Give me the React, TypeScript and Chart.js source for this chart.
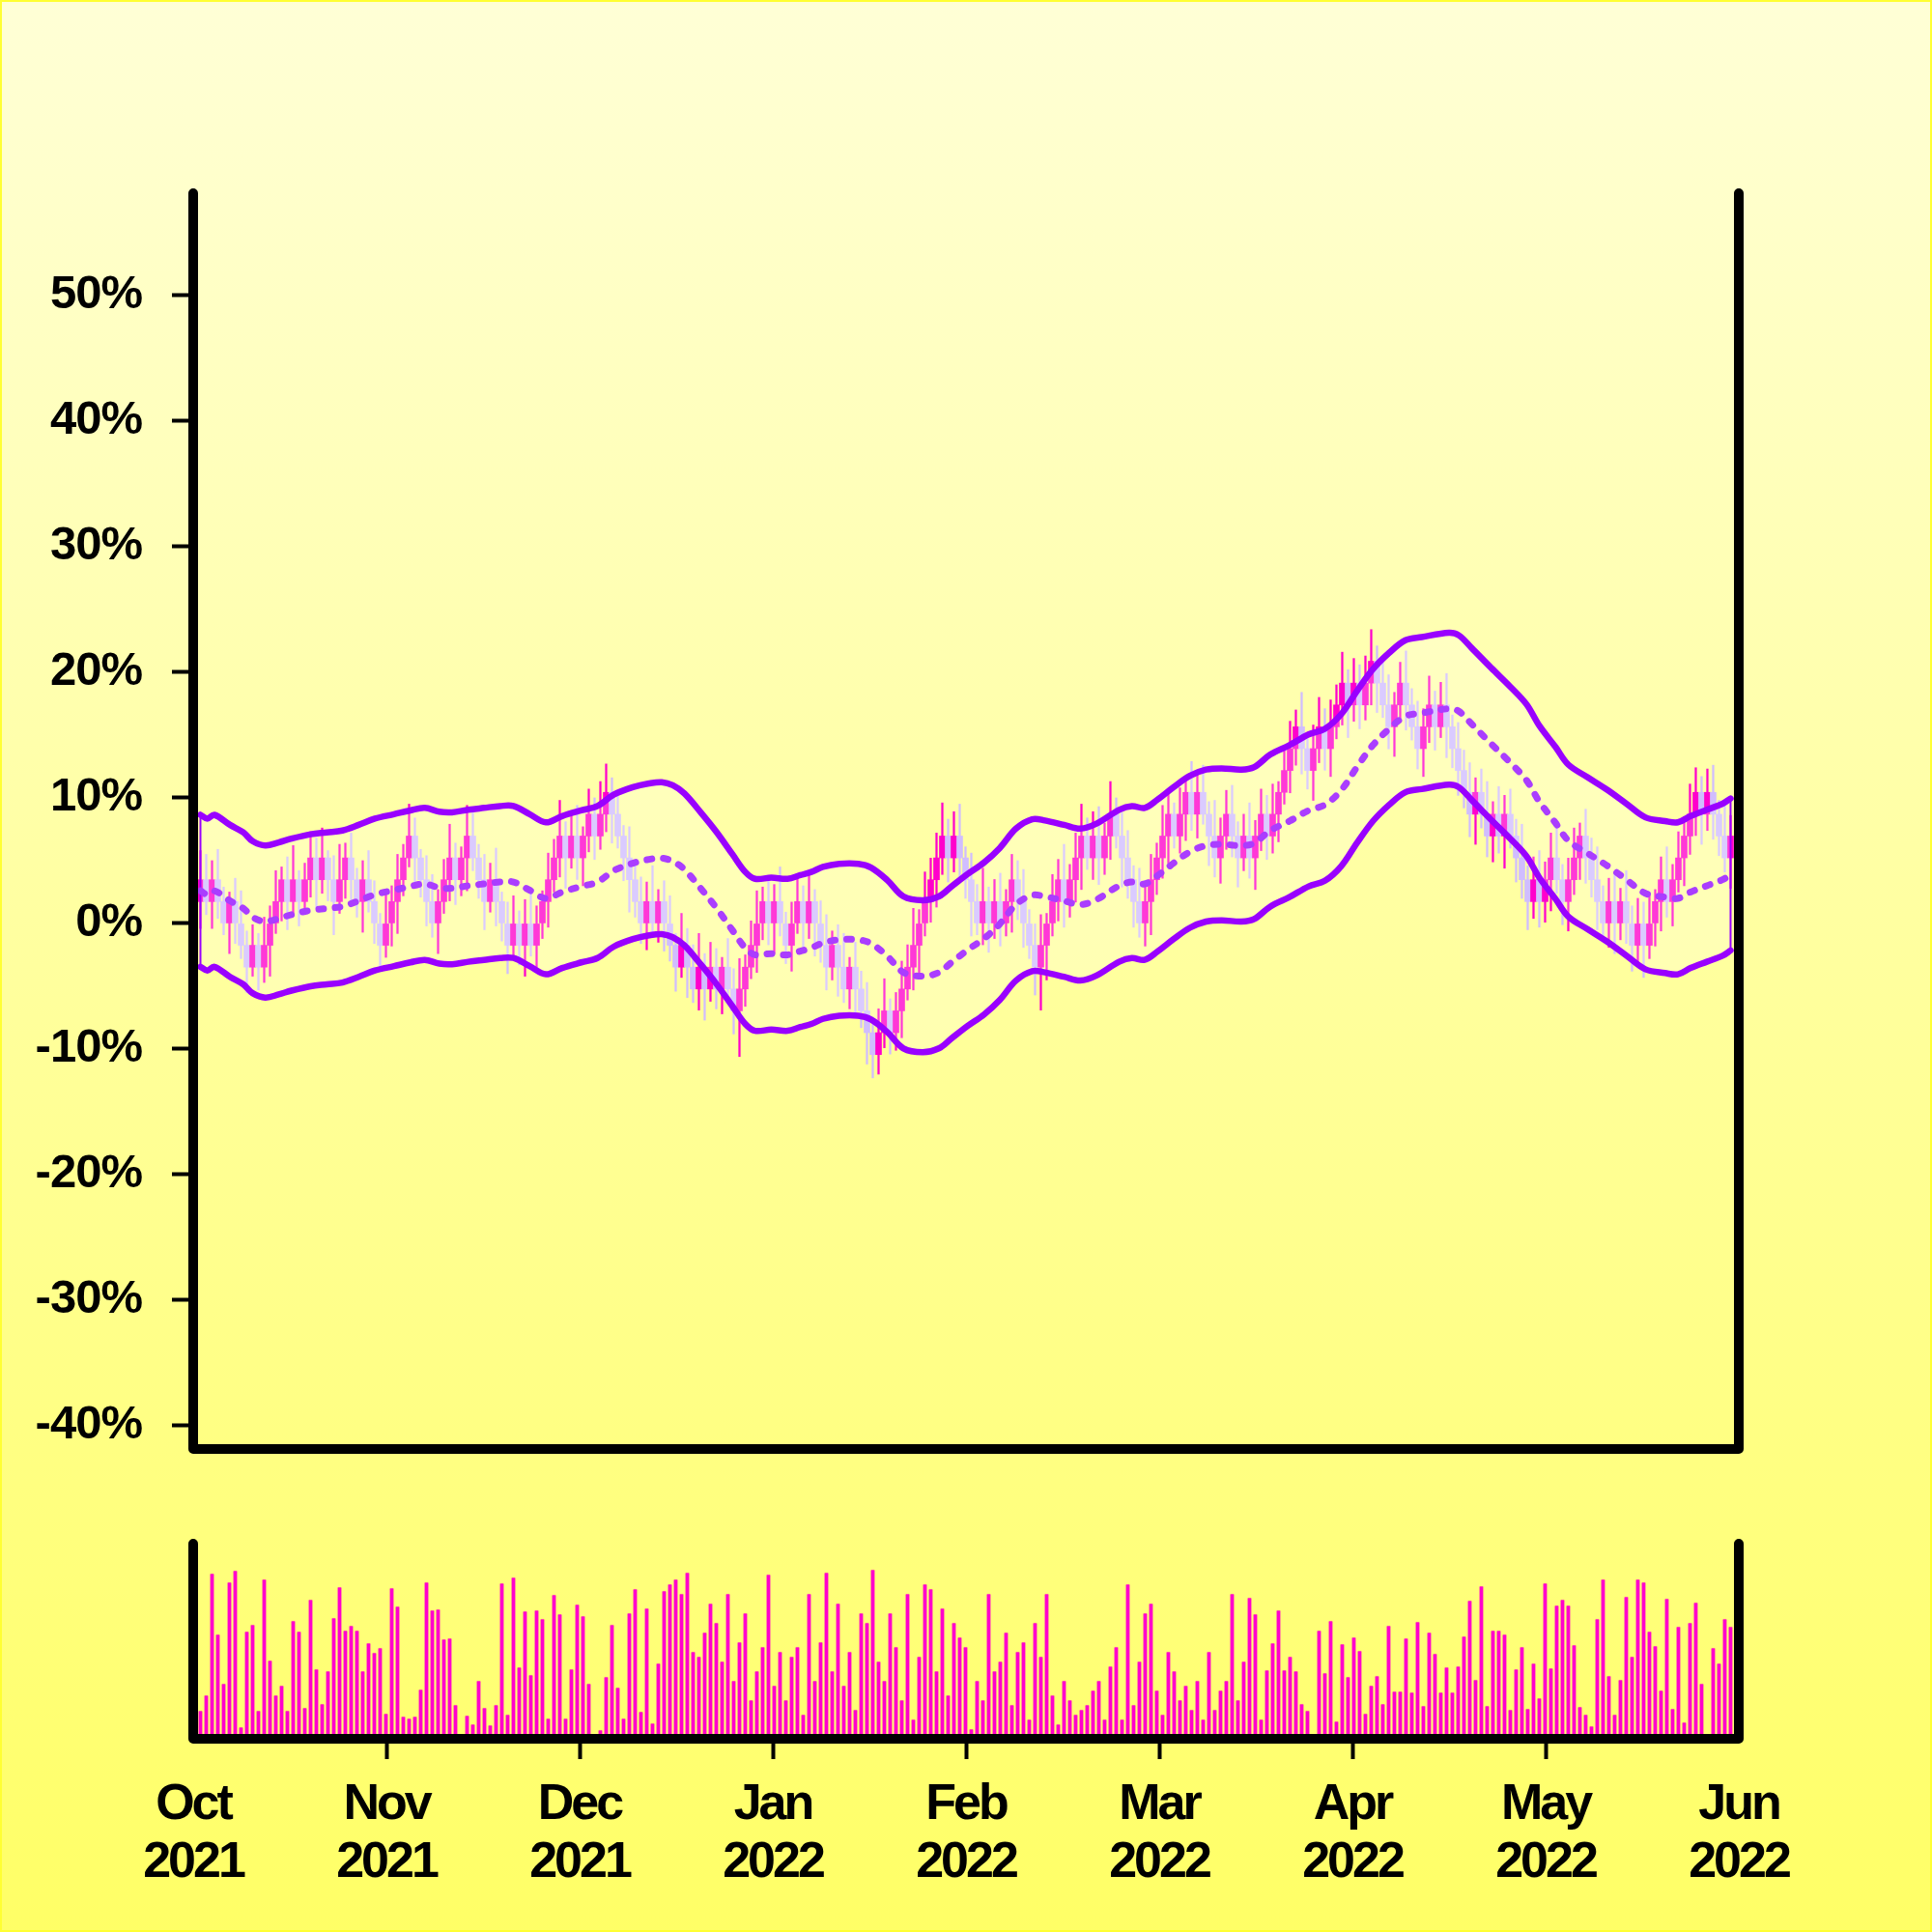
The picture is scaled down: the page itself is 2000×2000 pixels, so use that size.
import React, { useEffect, useRef } from 'react';
import { Chart, registerables } from 'chart.js';
Chart.register(...registerables);

// ---------- data (values in % relative change) ----------
const MONTH_LABELS = [
  ['Oct', '2021'], ['Nov', '2021'], ['Dec', '2021'], ['Jan', '2022'], ['Feb', '2022'],
  ['Mar', '2022'], ['Apr', '2022'], ['May', '2022'], ['Jun', '2022'],
];
const Y_TICKS = [-40, -30, -20, -10, 0, 10, 20, 30, 40, 50];

const OPEN = [
  1.74,3.48,1.74,3.48,1.74,0,1.74,0,-1.74,-3.48,
  -1.74,-3.48,-1.74,0,1.74,3.48,1.74,3.48,1.74,3.48,
  5.22,3.48,5.22,3.48,1.74,3.48,5.22,3.48,1.74,3.48,
  1.74,0,-1.74,0,1.74,3.48,5.22,6.96,5.22,3.48,
  1.74,0,1.74,3.48,5.22,3.48,5.22,6.96,5.22,3.48,
  1.74,3.48,1.74,0,-1.74,0,-1.74,0,-1.74,0,
  1.74,3.48,5.22,6.96,5.22,6.96,5.22,6.96,8.7,6.96,
  8.7,10.44,8.7,6.96,5.22,3.48,1.74,0,1.74,0,
  1.74,0,-1.74,-3.48,-1.74,-3.48,-5.22,-3.48,-5.22,-3.48,
  -5.22,-3.48,-5.22,-6.96,-5.22,-3.48,-1.74,0,1.74,0,
  1.74,0,-1.74,0,1.74,0,1.74,0,-1.74,-3.48,
  -1.74,-3.48,-5.22,-3.48,-5.22,-6.96,-8.7,-10.44,-8.7,-6.96,
  -8.7,-6.96,-5.22,-3.48,-1.74,0,1.74,3.48,5.22,6.96,
  5.22,6.96,5.22,3.48,1.74,0,1.74,0,1.74,0,
  1.74,3.48,1.74,0,-1.74,-3.48,-1.74,0,1.74,3.48,
  1.74,3.48,5.22,6.96,5.22,6.96,5.22,6.96,8.7,6.96,
  5.22,3.48,1.74,0,1.74,3.48,5.22,6.96,8.7,6.96,
  8.7,10.44,8.7,10.44,8.7,6.96,5.22,6.96,8.7,6.96,
  5.22,6.96,5.22,6.96,8.7,6.96,8.7,10.44,12.18,13.92,
  15.66,13.92,12.18,13.92,15.66,13.92,15.66,17.4,19.14,17.4,
  19.14,17.4,19.14,20.88,19.14,17.4,15.66,17.4,19.14,17.4,
  15.66,13.92,15.66,17.4,15.66,17.4,15.66,13.92,12.18,10.44,
  8.7,10.44,8.7,6.96,8.7,6.96,8.7,6.96,5.22,3.48,
  1.74,3.48,1.74,3.48,5.22,3.48,1.74,3.48,5.22,6.96,
  5.22,3.48,1.74,0,1.74,0,1.74,0,-1.74,0,
  -1.74,0,1.74,3.48,1.74,3.48,5.22,6.96,8.7,10.44,
  8.7,10.44,8.7,6.96,5.22,
];
const CLOSE = [
  3.48,1.74,3.48,1.74,0,1.74,0,-1.74,-3.48,-1.74,
  -3.48,-1.74,0,1.74,3.48,1.74,3.48,1.74,3.48,5.22,
  3.48,5.22,3.48,1.74,3.48,5.22,3.48,1.74,3.48,1.74,
  0,-1.74,0,1.74,3.48,5.22,6.96,5.22,3.48,1.74,
  0,1.74,3.48,5.22,3.48,5.22,6.96,5.22,3.48,1.74,
  3.48,1.74,0,-1.74,0,-1.74,0,-1.74,0,1.74,
  3.48,5.22,6.96,5.22,6.96,5.22,6.96,8.7,6.96,8.7,
  10.44,8.7,6.96,5.22,3.48,1.74,0,1.74,0,1.74,
  0,-1.74,-3.48,-1.74,-3.48,-5.22,-3.48,-5.22,-3.48,-5.22,
  -3.48,-5.22,-6.96,-5.22,-3.48,-1.74,0,1.74,0,1.74,
  0,-1.74,0,1.74,0,1.74,0,-1.74,-3.48,-1.74,
  -3.48,-5.22,-3.48,-5.22,-6.96,-8.7,-10.44,-8.7,-6.96,-8.7,
  -6.96,-5.22,-3.48,-1.74,0,1.74,3.48,5.22,6.96,5.22,
  6.96,5.22,3.48,1.74,0,1.74,0,1.74,0,1.74,
  3.48,1.74,0,-1.74,-3.48,-1.74,0,1.74,3.48,1.74,
  3.48,5.22,6.96,5.22,6.96,5.22,6.96,8.7,6.96,5.22,
  3.48,1.74,0,1.74,3.48,5.22,6.96,8.7,6.96,8.7,
  10.44,8.7,10.44,8.7,6.96,5.22,6.96,8.7,6.96,5.22,
  6.96,5.22,6.96,8.7,6.96,8.7,10.44,12.18,13.92,15.66,
  13.92,12.18,13.92,15.66,13.92,15.66,17.4,19.14,17.4,19.14,
  17.4,19.14,20.88,19.14,17.4,15.66,17.4,19.14,17.4,15.66,
  13.92,15.66,17.4,15.66,17.4,15.66,13.92,12.18,10.44,8.7,
  10.44,8.7,6.96,8.7,6.96,8.7,6.96,5.22,3.48,1.74,
  3.48,1.74,3.48,5.22,3.48,1.74,3.48,5.22,6.96,5.22,
  3.48,1.74,0,1.74,0,1.74,0,-1.74,0,-1.74,
  0,1.74,3.48,1.74,3.48,5.22,6.96,8.7,10.44,8.7,
  10.44,8.7,6.96,5.22,6.96,
];
const HIGH = [
  5.8,5.5,5.0,5.9,2.9,2.5,3.6,2.6,-0.6,-0.1,
  -0.8,0.5,1.4,4.2,4.5,5.3,6.2,4.2,4.8,7.3,
  6.8,7.6,5.8,5.4,6.3,6.4,7.2,4.4,5.0,5.8,
  3.4,0.8,2.6,3.0,5.5,6.3,9.5,8.4,5.9,5.4,
  3.9,2.7,5.1,7.9,6.4,6.1,9.4,8.8,6.3,5.5,
  4.8,6.0,2.5,1.7,2.2,1.0,1.9,2.6,1.4,2.6,
  5.6,6.7,9.8,8.1,8.8,9.4,7.7,10.7,10.0,11.3,
  12.7,11.6,10.6,7.8,7.7,4.9,3.7,3.3,4.6,2.7,
  3.4,2.2,-0.8,0.8,-0.4,-1.7,-0.8,-2.4,-1.5,-2.0,
  -2.7,-1.2,-3.6,-2.8,-2.5,0.2,2.6,2.9,3.8,3.1,
  4.5,0.9,1.7,3.9,3.0,4.2,2.7,1.8,0.7,-0.6,
  -0.1,-0.8,-2.7,-1.5,-3.8,-4.7,-7.5,-6.8,-4.4,-6.0,
  -5.5,-3.0,-1.7,1.2,1.1,4.1,5.2,7.2,9.6,8.3,
  8.9,9.5,6.1,5.6,3.1,4.4,2.9,3.5,4.0,2.7,
  5.5,5.0,4.3,1.1,0.0,0.7,0.8,3.9,5.1,6.3,
  4.7,7.2,9.5,8.4,8.9,9.3,8.0,11.3,10.0,8.8,
  7.4,4.6,4.4,3.2,5.5,6.4,9.4,10.5,9.6,10.8,
  11.7,12.9,12.0,12.6,9.7,9.8,8.4,10.6,11.0,8.1,
  8.7,9.6,8.2,10.7,10.2,11.1,11.3,14.0,16.1,17.0,
  18.4,14.9,15.8,18.0,17.1,17.8,19.0,21.6,20.2,21.1,
  20.6,21.3,23.4,22.1,21.0,19.8,18.4,20.8,21.7,18.7,
  17.7,17.1,19.7,18.5,19.2,19.9,16.6,16.0,13.8,12.8,
  11.6,12.3,11.3,9.7,10.9,10.2,10.7,8.3,7.9,4.6,
  5.3,5.8,4.9,7.2,7.7,4.7,5.2,7.6,8.0,9.1,
  6.8,6.1,3.0,3.6,3.9,2.8,4.2,1.4,2.0,1.7,
  2.3,2.7,5.3,6.1,4.7,7.3,8.5,11.1,12.4,11.7,
  12.3,12.6,9.8,9.5,8.6,
];
const LOW = [
  -0.4,0.7,-0.4,0.4,-0.9,-2.4,-1.6,-2.8,-5.5,-4.2,
  -5.3,-4.7,-4.2,-0.8,0.2,-0.5,0.7,-0.2,1.1,2.1,
  1.2,2.4,1.8,-0.9,0.8,2.0,1.5,0.5,-0.7,0.9,
  -1.6,-3.8,-2.7,-1.8,-0.8,2.2,4.5,3.0,2.1,-0.2,
  -1.1,-2.4,0.8,1.8,1.5,2.2,2.6,4.2,2.0,-0.5,
  0.9,-0.2,-1.4,-4.0,-2.8,-3.3,-4.2,-2.6,-3.5,-1.2,
  -0.3,2.5,3.7,2.8,4.4,3.5,3.0,5.7,5.1,5.9,
  7.3,6.4,6.0,3.4,0.9,0.5,-1.6,-2.1,-0.9,-1.5,
  -2.2,-3.0,-5.4,-4.3,-5.9,-6.3,-6.9,-7.7,-6.2,-6.8,
  -7.2,-6.4,-8.8,-10.6,-6.6,-4.4,-3.9,-1.3,-1.7,-2.4,
  -1.0,-3.2,-3.8,-0.8,-1.9,-1.2,-2.6,-3.1,-5.3,-4.5,
  -5.8,-6.3,-6.8,-7.2,-8.3,-11.2,-12.3,-12.0,-9.9,-10.4,
  -10.1,-9.1,-6.1,-5.3,-4.1,-1.0,0.1,1.3,3.9,3.3,
  4.1,3.2,2.0,-1.0,-0.9,-1.7,-2.3,-1.2,-1.8,-1.0,
  -0.7,0.3,-1.9,-2.8,-5.7,-6.9,-4.5,-1.0,0.2,-0.3,
  0.5,1.7,2.7,4.3,3.5,3.1,3.9,5.1,6.0,2.9,
  2.0,-0.3,-1.1,-1.8,-0.9,2.3,3.6,4.8,6.0,5.6,
  6.6,7.4,6.8,7.9,4.6,3.7,3.2,5.9,5.3,2.9,
  4.2,3.6,2.7,5.8,5.1,5.6,6.5,9.5,10.4,12.6,
  11.9,10.7,9.8,12.8,12.2,11.7,14.7,15.8,14.8,16.1,
  15.5,16.2,17.4,16.8,16.4,13.9,13.3,16.0,15.4,14.6,
  12.3,11.7,14.4,13.8,14.8,13.2,12.4,10.2,9.2,6.9,
  6.3,7.6,5.3,4.9,5.6,4.4,6.0,3.3,2.0,-0.5,
  0.4,-0.3,0.1,1.0,2.4,-0.1,-0.6,2.3,3.5,3.2,
  2.1,-0.5,-1.0,-1.9,-2.4,-1.3,-1.6,-3.8,-3.2,-4.3,
  -2.8,-1.8,-0.6,0.5,-0.2,2.5,3.0,5.5,7.0,6.3,
  7.4,6.7,5.4,4.1,2.8,
];
const VOLUME = [
  29,45,171,108,57,162,174,12,111,118,
  29,165,81,45,55,29,122,111,32,144,
  72,36,70,125,157,112,117,112,70,99,
  89,94,26,156,137,23,21,23,51,162,
  133,134,103,104,35,0,24,15,60,32,
  14,35,161,25,167,74,132,66,133,124,
  21,149,129,21,72,139,127,57,0,9,
  64,118,53,21,130,155,28,135,16,78,
  153,160,165,150,172,90,85,110,140,120,
  80,150,60,100,130,40,70,95,170,55,
  90,40,85,95,25,150,60,100,172,70,
  140,55,90,30,130,120,175,80,60,130,
  95,40,150,20,85,160,155,70,135,45,
  120,105,95,10,60,40,150,70,80,110,
  35,90,100,20,120,85,150,45,15,60,
  40,25,30,35,50,60,20,75,95,20,
  160,35,80,130,140,50,25,90,70,40,
  55,30,60,20,90,30,50,60,150,40,
  80,146,129,20,71,99,133,71,85,70,
  36,29,0,112,68,122,18,98,64,105,
  91,26,55,65,36,117,49,49,104,48,
  121,34,110,88,48,74,48,75,106,143,
  61,158,34,112,112,108,30,72,95,31,
  78,42,161,73,138,144,138,97,33,25,
  13,124,165,65,25,61,147,85,165,162,
  111,96,50,145,31,116,17,120,141,57,
  0,94,78,124,116,
];

// envelope band, sampled along the candle index
const BAND_X = [
  0,1.2,2.4,5.1,7.4,9.0,11.2,13.5,15.7,19.0,21.8,24.5,27.3,30.1,33.4,36.2,38.7,41.2,43.4,46.2,
  48.9,51.7,54.0,56.8,59.6,62.4,65.7,68.5,71.3,74.6,77.4,79.6,81.5,83.5,86.3,89.0,91.8,94.0,95.7,98.5,
  101.3,103.5,105.4,107.4,110.2,113.5,115.7,118.5,121.3,124.6,127.4,129.6,132.4,135.2,137.9,140.7,143.5,145.7,149.0,151.8,
  154.6,158.5,160.7,162.9,165.1,167.9,170.7,173.5,176.2,179.6,181.8,184.6,187.9,191.2,194.0,196.8,199.6,202.3,205.1,207.9,
  210.7,215.4,217.1,219.3,222.7,226.0,228.8,231.0,233.8,236.0,239.3,242.7,246.0,249.3,252.7,254.9,257.1,259.9,262.7,264.0,
];
const BAND_MID = [
  2.6,2.3,2.6,1.8,1.2,0.5,0.15,0.4,0.7,1.05,1.2,1.35,1.8,2.3,2.65,2.95,3.15,2.85,2.8,3.0,
  3.15,3.3,3.3,2.65,2.0,2.5,2.95,3.3,4.2,4.8,5.1,5.2,4.95,4.3,2.8,1.25,-0.55,-1.95,-2.5,-2.4,
  -2.5,-2.2,-1.95,-1.55,-1.3,-1.3,-1.6,-2.6,-3.9,-4.2,-3.9,-3.1,-2.1,-1.2,-0.05,1.5,2.25,2.15,1.8,1.5,
  1.9,3.0,3.3,3.15,3.8,4.8,5.7,6.2,6.3,6.2,6.4,7.4,8.15,9.0,9.45,10.6,12.5,14.2,15.5,16.5,
  16.75,17.1,16.9,15.9,14.3,12.8,11.4,9.7,8.0,6.6,5.6,4.6,3.5,2.4,2.1,2.0,2.5,3.0,3.5,3.9,
];
const BAND_UP = [
  8.65,8.35,8.65,7.85,7.25,6.55,6.2,6.45,6.75,7.1,7.25,7.4,7.85,8.35,8.7,9.0,9.2,8.9,8.85,9.05,
  9.2,9.35,9.35,8.7,8.05,8.55,9.0,9.35,10.25,10.85,11.15,11.25,11.0,10.35,8.85,7.3,5.5,4.1,3.55,3.65,
  3.55,3.85,4.1,4.5,4.75,4.75,4.45,3.45,2.15,1.85,2.15,2.95,3.95,4.85,6.0,7.55,8.3,8.2,7.85,7.55,
  7.95,9.05,9.35,9.2,9.85,10.85,11.75,12.25,12.35,12.25,12.45,13.45,14.2,15.05,15.5,16.65,18.55,20.25,21.55,22.55,
  22.8,23.15,22.95,21.95,20.35,18.85,17.45,15.75,14.05,12.65,11.65,10.65,9.55,8.45,8.15,8.05,8.55,9.05,9.55,9.95,
];
const BAND_LO = [
  -3.45,-3.75,-3.45,-4.25,-4.85,-5.55,-5.9,-5.65,-5.35,-5.0,-4.85,-4.7,-4.25,-3.75,-3.4,-3.1,-2.9,-3.2,-3.25,-3.05,
  -2.9,-2.75,-2.75,-3.4,-4.05,-3.55,-3.1,-2.75,-1.85,-1.25,-0.95,-0.85,-1.1,-1.75,-3.25,-4.8,-6.6,-8.0,-8.55,-8.45,
  -8.55,-8.25,-8.0,-7.6,-7.35,-7.35,-7.65,-8.65,-9.95,-10.25,-9.95,-9.15,-8.15,-7.25,-6.1,-4.55,-3.8,-3.9,-4.25,-4.55,
  -4.15,-3.05,-2.75,-2.9,-2.25,-1.25,-0.35,0.15,0.25,0.15,0.35,1.35,2.1,2.95,3.4,4.55,6.45,8.15,9.45,10.45,
  10.7,11.05,10.85,9.85,8.25,6.75,5.35,3.65,1.95,0.55,-0.45,-1.45,-2.55,-3.65,-3.95,-4.05,-3.55,-3.05,-2.55,-2.15,
];

// ---------- styling ----------
const X_MIN = -1.25;
const X_MAX = 265.42;
const UP_COLOR = '#ff00cc';
const DOWN_COLOR = '#d0bdff';
const BAND_COLOR = '#9900ff';
const MID_COLOR = '#aa3dff';
const FONT_FAMILY = "'Liberation Sans', Arial, Helvetica, sans-serif";

const candleColor = (i: number) => (CLOSE[i] >= OPEN[i] ? UP_COLOR : DOWN_COLOR);

const framePlugin = {
  id: 'frame',
  afterDatasetsDraw(chart: any) {
    const { ctx, chartArea: a } = chart;
    ctx.save();
    ctx.strokeStyle = '#000';
    ctx.lineWidth = 10;
    ctx.lineCap = 'round';
    ctx.lineJoin = 'round';
    ctx.beginPath();
    ctx.moveTo(a.left, a.top);
    ctx.lineTo(a.left, a.bottom);
    ctx.lineTo(a.right, a.bottom);
    ctx.lineTo(a.right, a.top);
    ctx.stroke();
    ctx.restore();
  },
};

const spacingPlugin = (px: string) => ({
  id: 'letterSpacing',
  beforeLayout(chart: any) { (chart.ctx as any).letterSpacing = px; },
  beforeDraw(chart: any) { (chart.ctx as any).letterSpacing = px; },
});

export default function App() {
  const mainRef = useRef<HTMLCanvasElement>(null);
  const volRef = useRef<HTMLCanvasElement>(null);

  useEffect(() => {
    const bandPts = (arr: number[]) => BAND_X.map((x, i) => ({ x, y: arr[i] }));
    const last = BAND_X.length - 1;

    const main = new Chart(mainRef.current as HTMLCanvasElement, {
      type: 'bar',
      data: {
        datasets: [
          {
            type: 'line', label: 'upper', data: bandPts(BAND_UP),
            borderColor: BAND_COLOR, borderWidth: 6.5, pointRadius: 0, tension: 0.35,
            borderCapStyle: 'round', borderJoinStyle: 'round',
            fill: '+1', backgroundColor: 'rgba(255,255,255,0.22)', order: 3,
          },
          {
            type: 'line', label: 'lower', data: bandPts(BAND_LO),
            borderColor: BAND_COLOR, borderWidth: 6.5, pointRadius: 0, tension: 0.35,
            borderCapStyle: 'round', borderJoinStyle: 'round',
            fill: false, order: 2,
          },
          {
            type: 'line', label: 'middle', data: bandPts(BAND_MID),
            borderColor: MID_COLOR, borderWidth: 7, pointRadius: 0, tension: 0.35,
            borderDash: [5, 12], borderCapStyle: 'round', fill: false, order: 1,
          },
          {
            type: 'bar', label: 'body',
            data: OPEN.map((o, i) => ({ x: i, y: [o, CLOSE[i]] })),
            backgroundColor: (c: any) => candleColor(c.dataIndex),
            barThickness: 6, grouped: false, order: 8,
          },
          {
            type: 'bar', label: 'wick',
            data: HIGH.map((h, i) => ({ x: i, y: [LOW[i], h] })),
            backgroundColor: (c: any) => candleColor(c.dataIndex),
            barThickness: 1.6, grouped: false, order: 9,
          },
          {
            type: 'line', label: 'leftEdge',
            data: [{ x: BAND_X[0], y: BAND_LO[0] }, { x: BAND_X[0], y: BAND_UP[0] }],
            borderColor: BAND_COLOR, borderWidth: 2, pointRadius: 0, fill: false, order: 2,
          },
          {
            type: 'line', label: 'rightEdge',
            data: [{ x: BAND_X[last], y: BAND_LO[last] }, { x: BAND_X[last], y: BAND_UP[last] }],
            borderColor: BAND_COLOR, borderWidth: 2, pointRadius: 0, fill: false, order: 2,
          },
        ] as any,
      },
      options: {
        animation: false,
        responsive: false,
        maintainAspectRatio: false,
        layout: { padding: { left: 0, top: 200, right: 200, bottom: 500 } },
        plugins: { legend: { display: false }, tooltip: { enabled: false } },
        scales: {
          x: {
            type: 'linear', min: X_MIN, max: X_MAX, display: false, offset: false,
            grid: { offset: false },
          },
          y: {
            type: 'linear', min: -41.85, max: 58.15,
            afterFit(s: any) { s.width = 200; },
            afterBuildTicks(s: any) { s.ticks = Y_TICKS.map((v) => ({ value: v })); },
            border: { display: false },
            grid: { drawOnChartArea: false, tickLength: 22, tickWidth: 4, tickColor: '#000' },
            ticks: {
              color: '#000', padding: 31,
              font: { family: FONT_FAMILY, size: 49, weight: 'bold' },
              callback: (v: any) => `${v}%`,
            },
          },
        } as any,
      },
      plugins: [framePlugin, spacingPlugin('-1px')],
    } as any);

    const vol = new Chart(volRef.current as HTMLCanvasElement, {
      type: 'bar',
      data: {
        datasets: [
          {
            label: 'volume',
            data: VOLUME.map((v, i) => ({ x: i, y: v })),
            backgroundColor: UP_COLOR,
            borderColor: '#ff5aa8',
            borderWidth: { top: 1, left: 0, right: 0, bottom: 0 },
            borderSkipped: 'start',
            barThickness: 4, grouped: false,
          },
        ] as any,
      },
      options: {
        animation: false,
        responsive: false,
        maintainAspectRatio: false,
        layout: { padding: { left: 200, top: 1598, right: 200, bottom: 0 } },
        plugins: { legend: { display: false }, tooltip: { enabled: false } },
        scales: {
          x: {
            type: 'linear', min: X_MIN, max: X_MAX, offset: false,
            afterFit(s: any) { s.height = 200; },
            afterBuildTicks(s: any) {
              s.ticks = MONTH_LABELS.map((_, i) => ({ value: X_MIN + (i * (X_MAX - X_MIN)) / 8 }));
            },
            border: { display: false },
            grid: {
              offset: false, drawOnChartArea: false, tickLength: 21, tickWidth: 4,
              tickColor: (c: any) => (c.index === 0 || c.index === MONTH_LABELS.length - 1 ? 'rgba(0,0,0,0)' : '#000'),
            },
            ticks: {
              color: '#000', padding: 18, autoSkip: false, maxRotation: 0, minRotation: 0,
              font: { family: FONT_FAMILY, size: 52, weight: 'bold', lineHeight: 1.15 },
              callback: (_v: any, i: number) => MONTH_LABELS[i],
            },
          },
          y: { display: false, min: 0, max: 202 },
        } as any,
      },
      plugins: [framePlugin, spacingPlugin('-3px')],
    } as any);

    return () => { main.destroy(); vol.destroy(); };
  }, []);

  return (
    <div
      style={{
        position: 'absolute', left: 0, top: 0, width: 2000, height: 2000,
        background: 'linear-gradient(to bottom, #ffffd6 0%, #ffff66 100%)',
        boxShadow: 'inset 0 0 0 2px #ffff33',
        overflow: 'hidden',
      }}
    >
      <canvas ref={mainRef} width={2000} height={2000}
        style={{ position: 'absolute', left: 0, top: 0, width: 2000, height: 2000 }} />
      <canvas ref={volRef} width={2000} height={2000}
        style={{ position: 'absolute', left: 0, top: 0, width: 2000, height: 2000 }} />
    </div>
  );
}
